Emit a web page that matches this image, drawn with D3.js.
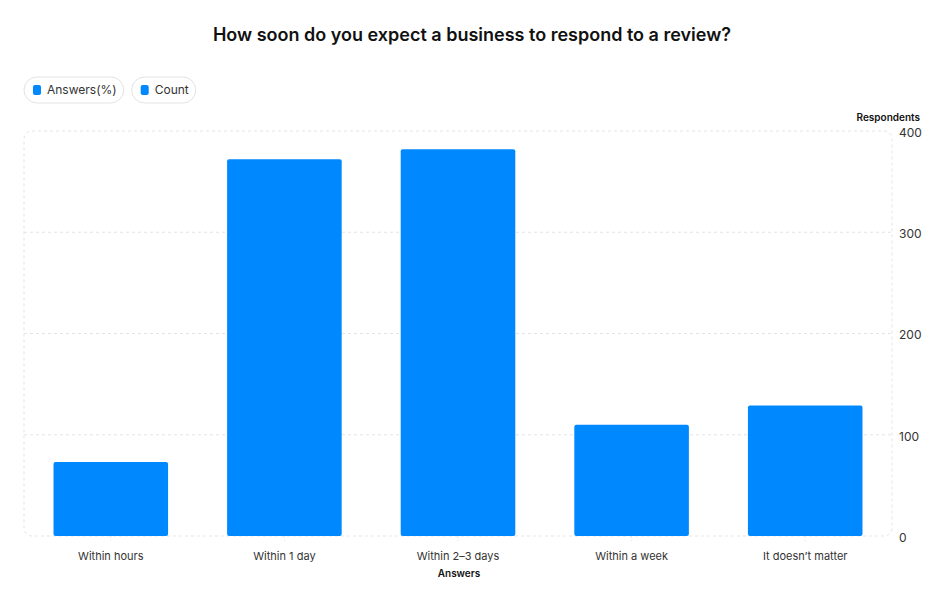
<!DOCTYPE html>
<html>
<head>
    <meta charset="utf-8">
    <title>Review response expectations</title>
    <script type="text/javascript" src="https://d3js.org/d3.v7.min.js"></script>
    <style>
        body { margin: 0; background: white; }
        .canvas { font-family: Inter, "Noto Sans", sans-serif; background-color: white; }
    </style>
</head>
<body>
    <svg class="canvas" width="944" height="600"></svg>
    <script type="text/javascript">
        // data
        const categories = ["Within hours", "Within 1 day", "Within 2\u20133 days", "Within a week", "It doesn\u2019t matter"];
        const counts = [73, 372, 382, 110, 129];
        const yTicks = [0, 100, 200, 300, 400];
        const legendLabels = ["Answers(%)", "Count"];

        const blue = "#0088ff";
        const svg = d3.select(".canvas");

        const plotLeft = 24, plotRight = 892, plotTop = 131, plotBottom = 536;

        const x = d3.scaleBand()
            .domain(categories)
            .range([plotLeft, plotRight])
            .paddingInner(0.34)
            .paddingOuter(0.17);

        const y = d3.scaleLinear()
            .domain([0, 400])
            .range([plotBottom, plotTop]);

        // title
        svg.append("text")
            .attr("x", 472).attr("y", 41)
            .attr("text-anchor", "middle")
            .style("font-size", "18px").style("font-weight", 600)
            .attr("fill", "#111")
            .text("How soon do you expect a business to respond to a review?");

        // legend pills
        let lx = 24;
        legendLabels.forEach(label => {
            const g = svg.append("g").attr("transform", `translate(${lx},77)`);
            const t = g.append("text")
                .attr("x", 23).attr("y", 17)
                .style("font-size", "12px").attr("fill", "#333")
                .text(label);
            const tw = t.node().getComputedTextLength();
            const w = tw + 30;
            g.insert("rect", "text")
                .attr("width", w).attr("height", 26)
                .attr("rx", 13)
                .attr("fill", "white").attr("stroke", "#e3e3e3");
            g.append("rect")
                .attr("x", 9).attr("y", 8).attr("width", 8).attr("height", 10)
                .attr("rx", 2).attr("fill", blue);
            lx += w + 8;
        });

        // plot frame and grid
        svg.append("rect")
            .attr("x", plotLeft).attr("y", plotTop)
            .attr("width", plotRight - plotLeft).attr("height", plotBottom - plotTop)
            .attr("rx", 8)
            .attr("fill", "none").attr("stroke", "#e4e4e4")
            .attr("stroke-dasharray", "3,3");

        svg.selectAll(".grid")
            .data(yTicks.filter(d => d > 0 && d < 400))
            .enter().append("line")
            .attr("class", "grid")
            .attr("x1", plotLeft).attr("x2", plotRight)
            .attr("y1", d => y(d)).attr("y2", d => y(d))
            .attr("stroke", "#e4e4e4").attr("stroke-dasharray", "3,3");

        // y axis on the right
        const yAxis = svg.append("g")
            .attr("transform", `translate(${plotRight},0)`)
            .call(d3.axisRight(y).tickValues(yTicks).tickSize(0).tickPadding(7));
        yAxis.select(".domain").remove();
        yAxis.selectAll("text")
            .attr("dy", "0.45em")
            .style("font-family", "Inter, sans-serif")
            .style("font-size", "12px").attr("fill", "#333");

        svg.append("text")
            .attr("x", 920).attr("y", 121)
            .attr("text-anchor", "end")
            .style("font-size", "10px").style("font-weight", 600)
            .attr("fill", "#111")
            .text("Respondents");

        // bars
        svg.selectAll(".bar")
            .data(categories)
            .enter().append("rect")
            .attr("class", "bar")
            .attr("x", d => x(d))
            .attr("y", (d, i) => y(counts[i]))
            .attr("width", x.bandwidth())
            .attr("height", (d, i) => y(0) - y(counts[i]))
            .attr("rx", 2)
            .attr("fill", blue);

        // x axis
        const xAxis = svg.append("g")
            .attr("transform", `translate(0,${plotBottom})`)
            .call(d3.axisBottom(x).tickSize(5).tickPadding(11));
        xAxis.select(".domain").remove();
        xAxis.selectAll("line")
            .attr("stroke", "#e4e4e4").attr("stroke-dasharray", "2,2");
        xAxis.selectAll("text")
            .style("font-family", "Inter, sans-serif")
            .style("font-size", "11px").attr("fill", "#333");

        svg.append("text")
            .attr("x", 459).attr("y", 577)
            .attr("text-anchor", "middle")
            .style("font-size", "10px").style("font-weight", 600)
            .attr("fill", "#111")
            .text("Answers");
    </script>
</body>
</html>
